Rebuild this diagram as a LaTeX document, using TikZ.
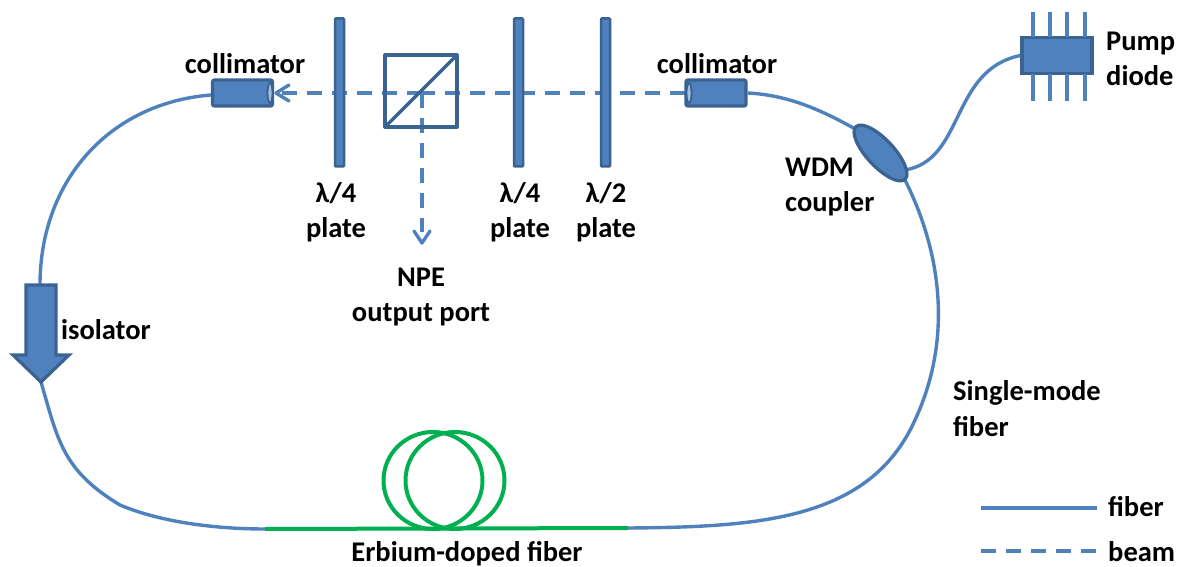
\documentclass[tikz,border=0pt]{standalone}
\usepackage{fontspec}
\setmainfont{Carlito}
\usetikzlibrary{arrows.meta,shapes.geometric}
\definecolor{fibc}{HTML}{4F81BD}
\definecolor{edgec}{HTML}{3A6391}
\definecolor{grn}{HTML}{00B050}
\tikzset{
  x=1pt,y=-1pt,
  lab/.style={font=\fontsize{28.5}{35.5}\selectfont\bfseries,text=black,align=center,inner sep=0pt},
  fiberline/.style={draw=fibc,line width=3.4pt},
  beamline/.style={draw=fibc,line width=3.4pt,dash pattern=on 15pt off 10pt},
  headline/.style={draw=fibc,line width=3.4pt,line cap=round,line join=round},
  edfline/.style={draw=grn,line width=4pt},
  plate/.style={draw=edgec,fill=fibc,line width=2.5pt,rounded corners=1pt,minimum width=9pt,minimum height=148pt,inner sep=0pt},
  blockc/.style={draw=edgec,fill=fibc,line width=3.2pt,inner sep=0pt},
}
\begin{document}
\begin{tikzpicture}
\useasboundingbox (0,0) rectangle (1187,567);
% coordinates
\coordinate (lf1) at (40,285);
\coordinate (lf2) at (41,382);
\coordinate (g1) at (265,529);
\coordinate (g2) at (628,528);
\coordinate (leg1a) at (981,508);
\coordinate (leg1b) at (1097,508);
\coordinate (leg2a) at (981,551);
\coordinate (leg2b) at (1097,551);
\coordinate (bl) at (276,93);
\coordinate (br) at (685,93);
\coordinate (bd) at (422,243);
\coordinate (bc) at (422,93);
\coordinate (cp) at (905,170);
\coordinate (cq) at (905,180);
% beam
\draw[beamline] (br) -- (bc);
\draw[beamline] (bc) -- (bl);
\draw[beamline] (bc) -- (422,232);
\draw[headline] (414,231) -- (bd) -- (430,231);
\draw[headline] (289,85) -- (bl) -- (289,101);
% collimators
\node[blockc,rounded corners=2pt,minimum width=60pt,minimum height=26pt] (cl) at (242.5,93) {};
\draw[draw=edgec,fill=fibc!50!white,line width=1.8pt] (270,93) ellipse (2.5 and 10);
\node[blockc,rounded corners=2pt,minimum width=60pt,minimum height=26pt] (cr) at (716,93) {};
\draw[draw=edgec,fill=fibc!50!white,line width=1.8pt] (689,93) ellipse (2.5 and 10);
\node[blockc,minimum width=70pt,minimum height=36pt] (pump) at (1057,55.5) {};
% fibers
\draw[fiberline] (cl.west) ++(0,2) .. controls (110,103) and (40,180) .. (lf1);
\draw[fiberline] (lf2) .. controls (58,440) and (62,470) .. (120,505) .. controls (160,522) and (215,529) .. (g1);
\draw[edfline] (g1) -- (g2);
\draw[fiberline] (g2) .. controls (760,527) and (870,520) .. (915,420) .. controls (950,345) and (945,260) .. (cq);
\draw[fiberline] (cr.east) .. controls (790,95) and (825,112) .. (857,130);
\draw[fiberline] (cp) .. controls (965,160) and (950,70) .. (pump.west);
\node[blockc,ellipse,minimum width=72pt,minimum height=27pt,rotate=-47] (wdm) at (880.5,153) {};
% EDF loops
\draw[edfline] (433,480.5) ellipse (49.5 and 48.5);
\draw[edfline] (455,480.5) ellipse (49.5 and 48.5);
% pins
\foreach \px in {1033,1050,1067,1085}{
  \draw[fiberline] (\px,12) -- (\px,37);
  \draw[fiberline] (\px,74) -- (\px,101);
}
% plates
\node[plate] (p1) at (339.5,92.5) {};
\node[plate] (p2) at (518.5,92.5) {};
\node[plate] (p3) at (605.5,92.5) {};
% cube
\draw[draw=edgec,line width=3.2pt,line join=round] (385,55) rectangle (457,127);
\draw[draw=edgec,line width=3.2pt] (385,127) -- (457,55);
% isolator
\draw[blockc,line join=miter] (26,285) -- (56,285) -- (56,355) -- (69,355) -- (lf2) -- (13,355) -- (26,355) -- cycle;
% legend
\draw[fiberline] (leg1a) -- (leg1b);
\draw[beamline] (leg2a) -- (leg2b);
% labels
\node[lab] (t1) at (245,64) {collimator};
\node[lab] (t2) at (717,64) {collimator};
\node[lab] (t3) at (336,212) {λ/4\\plate};
\node[lab] (t4) at (520,212) {λ/4\\plate};
\node[lab] (t5) at (606,212) {λ/2\\plate};
\node[lab] (t6) at (421,297) {NPE\\output port};
\node[lab,anchor=west] (t7) at (61,330) {isolator};
\node[lab,align=left,anchor=west] (t8) at (785,187) {WDM\\coupler};
\node[lab,align=left,anchor=west] (t9) at (1106,59) {Pump\\diode};
\node[lab,align=left,anchor=west] (t10) at (953,408.5) {Single-mode\\fiber};
\node[lab] (t11) at (467,553.5) {Erbium-doped fiber};
\node[lab,anchor=west] (t12) at (1108,507) {fiber};
\node[lab,anchor=west] (t13) at (1108,552) {beam};
\end{tikzpicture}
\end{document}
